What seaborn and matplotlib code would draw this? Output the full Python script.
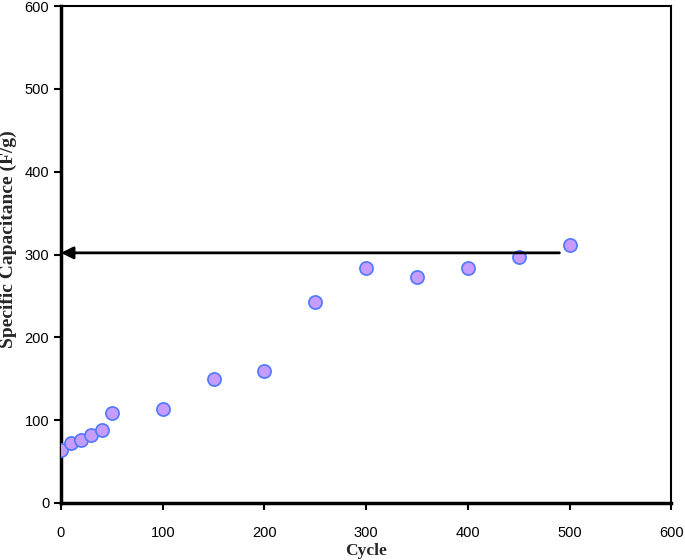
import matplotlib
matplotlib.use("Agg")
import matplotlib.pyplot as plt
import seaborn as sns
import pandas as pd

cycles = [0, 10, 20, 30, 40, 50, 100, 150, 200, 250, 300, 350, 400, 450, 500]
capacitance = [64, 72, 76, 82, 88, 108, 113, 150, 159, 243, 284, 273, 284, 297, 312]
arrow_start = (490, 302)
arrow_end = (0, 302)
ticks = [0, 100, 200, 300, 400, 500, 600]

df = pd.DataFrame({"Cycle": cycles, "Cap": capacitance})

sns.set_theme(style="white")
plt.rcParams['font.family'] = ['Liberation Sans', 'DejaVu Sans']

fig = plt.figure(figsize=(6.85, 5.6), dpi=100)
ax = fig.add_axes([0.089, 0.102, 0.891, 0.887])

sns.scatterplot(data=df, x="Cycle", y="Cap", ax=ax, s=90, color="#C69CFF",
                edgecolor="#4F78FF", linewidth=1.2, zorder=3)

ax.annotate("", xy=arrow_end, xytext=arrow_start,
            arrowprops=dict(arrowstyle="-|>", color="black", lw=2,
                            mutation_scale=18, shrinkA=0, shrinkB=0))

ax.set_xlim(0, 600)
ax.set_ylim(0, 600)
ax.set_xticks(ticks)
ax.set_yticks(ticks)
ax.tick_params(axis="both", labelsize=10.5, length=5, width=1.5, direction="out",
               bottom=True, left=True, colors="black")
ax.tick_params(axis="x", pad=12)
for sp in ax.spines.values():
    sp.set_color("black")
    sp.set_linewidth(1.5)
ax.spines["left"].set_linewidth(2.5)
ax.spines["bottom"].set_linewidth(2.5)

ax.set_xlabel("Cycle", fontsize=12.5, fontweight="bold", family="Liberation Serif", labelpad=2)
ax.set_ylabel("Specific Capacitance (F/g)", fontsize=14, fontweight="bold",
              family="Liberation Serif")
ax.yaxis.set_label_coords(-0.072, 0.53)

fig.savefig("out.png", dpi=100)
